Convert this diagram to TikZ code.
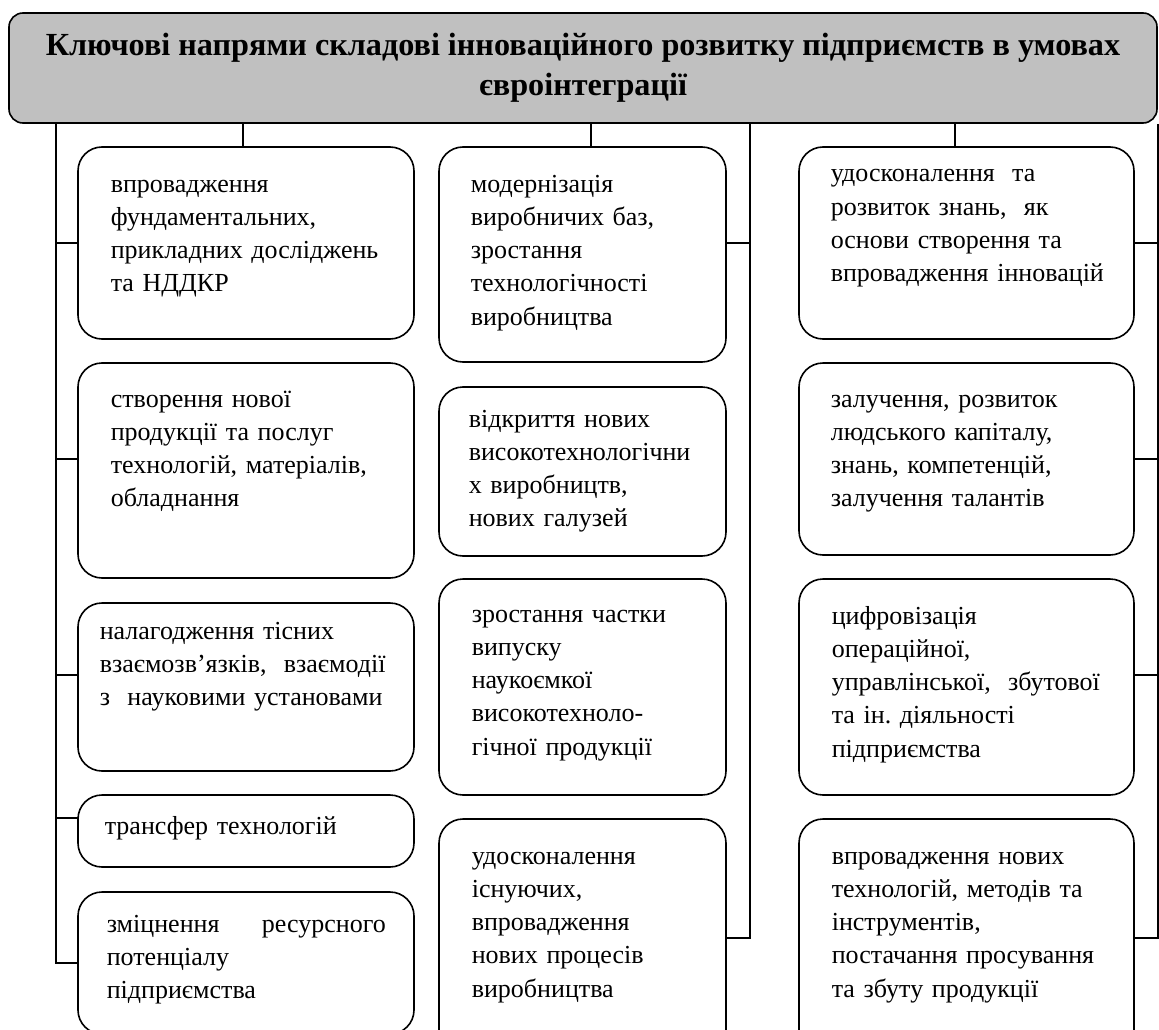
\documentclass[tikz,border=0pt]{standalone}
\usepackage{fontspec}
\setmainfont{Liberation Serif}
\frenchspacing

\begin{document}
\begin{tikzpicture}[x=1pt, y=-1pt, line width=1.6pt,
  box/.style={draw, rounded corners=24pt, inner sep=0pt, outer sep=0pt},
  txt/.style={anchor=base west, inner sep=0pt, align=left, text width=300pt,
    font=\fontsize{26}{33.3}\selectfont},
  head/.style={draw, fill=headgray, rounded corners=14pt, align=center,
    font=\fontsize{32.2}{40}\selectfont\bfseries}]
\definecolor{headgray}{HTML}{C0C0C0}
\clip (0,0) rectangle (1159,1030);

\node[head, minimum width=1148, minimum height=110] (title) at (583,68)
  {Ключові напрями складові інноваційного розвитку підприємств в умовах\\євроінтеграції};

% left column
\node[box, minimum width=336, minimum height=192] (l1) at (246,243) {};
\node[box, minimum width=336, minimum height=215] (l2) at (246,470.5) {};
\node[box, minimum width=336, minimum height=168] (l3) at (246,687) {};
\node[box, minimum width=336, minimum height=72] (l4) at (246,831) {};
\node[box, minimum width=336, minimum height=142] (l5) at (246,963) {};

\node[txt] (l1t) at (110,192) {впровадження\\фундаментальних,\\прикладних досліджень\\та НДДКР};
\node[txt] (l2t) at (110,407) {створення нової\\продукції та послуг\\технологій, матеріалів,\\обладнання};
\node[txt] (l3t) at (99,639) {налагодження тісних\\взаємозв’язків,~ взаємодії\\з~ науковими установами};
\node[txt] (l4t) at (104,834) {трансфер технологій};
\node[txt, text width=279pt] (l5t) at (106,932) {зміцнення\hfill ресурсного\\потенціалу\\підприємства};

% middle column
\node[box, minimum width=287, minimum height=215] (m1) at (582.5,254.5) {};
\node[box, minimum width=287, minimum height=169] (m2) at (582.5,471.5) {};
\node[box, minimum width=287, minimum height=216] (m3) at (582.5,687) {};
\node[box, minimum width=287, minimum height=238] (m4) at (582.5,938) {};

\node[txt] (m1t) at (470,192) {модернізація\\виробничих баз,\\зростання\\технологічності\\виробництва};
\node[txt] (m2t) at (468,427) {відкриття нових\\високотехнологічни\\х виробництв,\\нових галузей};
\node[txt] (m3t) at (471,622) {зростання частки\\випуску\\наукоємкої\\високотехноло-\\гічної продукції};
\node[txt] (m4t) at (471,864) {удосконалення\\існуючих,\\впровадження\\нових процесів\\виробництва};

% right column
\node[box, minimum width=335, minimum height=192] (r1) at (966.5,243) {};
\node[box, minimum width=335, minimum height=192] (r2) at (966.5,459) {};
\node[box, minimum width=335, minimum height=216] (r3) at (966.5,687) {};
\node[box, minimum width=335, minimum height=238] (r4) at (966.5,938) {};

\node[txt] (r1t) at (830,182) {удосконалення~ та\\розвиток знань,~ як\\основи створення та\\впровадження інновацій};
\node[txt] (r2t) at (830,407) {залучення, розвиток\\людського капіталу,\\знань, компетенцій,\\залучення талантів};
\node[txt] (r3t) at (831,624) {цифровізація\\операційної,\\управлінської,~ збутової\\та ін. діяльності\\підприємства};
\node[txt] (r4t) at (831,864) {впровадження нових\\технологій, методів та\\інструментів,\\постачання просування\\та збуту продукції};

% connectors
\coordinate (t1) at (243,147);
\coordinate (t2) at (591,147);
\coordinate (t3) at (955,147);
\foreach \t in {t1,t2,t3}
  \draw (\t |- title.south) -- (\t);

\coordinate (lbus1) at (56,243);
\coordinate (lbus2) at (56,459);
\coordinate (lbus3) at (56,675);
\coordinate (lbus4) at (56,818);
\coordinate (lbus5) at (56,963);
\draw (lbus1 |- title.south) -- (lbus5) -- (lbus5 -| l5.west);
\foreach \i in {1,...,4}
  \draw (lbus\i) -- (lbus\i -| l\i.west);

\coordinate (mbus1) at (750,243);
\coordinate (mbus4) at (750,938);
\draw (mbus1 |- title.south) -- (mbus4) -- (mbus4 -| m4.east);
\draw (mbus1) -- (mbus1 -| m1.east);

\coordinate (rbus1) at (1158,243);
\coordinate (rbus2) at (1158,459);
\coordinate (rbus3) at (1158,675);
\coordinate (rbus4) at (1158,938);
\draw (rbus1 |- title.south) -- (rbus4) -- (rbus4 -| r4.east);
\foreach \i in {1,...,3}
  \draw (rbus\i) -- (rbus\i -| r\i.east);

\end{tikzpicture}
\end{document}
